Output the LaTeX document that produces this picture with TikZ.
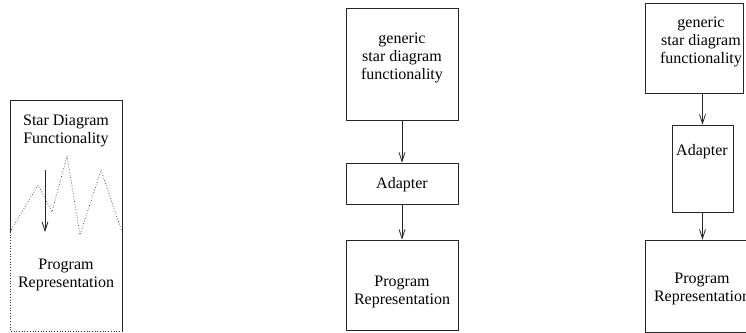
\documentclass[tikz,border=0pt]{standalone}
\usepackage{fontspec}
\setmainfont{Liberation Serif}
\usetikzlibrary{arrows.meta}
\begin{document}
\begin{tikzpicture}[x=1pt,y=-1pt,
  box/.style={draw=black!85, line width=0.8pt, inner sep=0pt, minimum width=#1},
  lbl/.style={align=center, font=\fontsize{16}{18}\selectfont, inner sep=0pt},
  arr/.style={draw=black!85, line width=0.8pt, -{Straight Barb[length=9pt,width=6pt,line width=0.8pt]}},
  dot/.style={draw=black!80, line width=0.7pt, dotted}]
\useasboundingbox (0,0) rectangle (746,332);
\clip (0,0) rectangle (746,332);
% ---------- left diagram ----------
\draw[draw=black!85, line width=0.8pt] (10,232) -- (10,100) -- (122,100) -- (122,331);
\draw[dot] (10,232) -- (10,331) -- (122,331);
\draw[dot] (10,232) -- (38,185) -- (52,212) -- (67,156) -- (80,235) -- (101,170) -- (122,232);
\coordinate (la) at (45,170);
\coordinate (lb) at (45,232);
\draw[arr] (la) -- (lb);
\node[lbl] (lt) at (66,131) {Star Diagram\\Functionality};
\node[lbl] (lp) at (66,275) {Program\\Representation};
% ---------- middle diagram ----------
\node[box=112pt, minimum height=112pt] (mg) at (402,64) {};
\node[box=112pt, minimum height=41pt] (ma) at (402,183.5) {};
\node[box=112pt, minimum height=90pt] (mp) at (402,285) {};
\node[lbl] (mgt) at (402,57.5) {generic\\star diagram\\functionality};
\node[lbl] (mat) at (402,185) {Adapter};
\node[lbl] (mpt) at (402,292) {Program\\Representation};
\draw[arr] (mg) -- (ma);
\draw[arr] (ma) -- (mp);
% ---------- right diagram ----------
\node[box=98pt, minimum height=90pt] (rg) at (694,48) {};
\node[box=61pt, minimum height=87pt] (ra) at (702.5,168.5) {};
\node[box=118pt, minimum height=92pt] (rp) at (704,286) {};
\node[lbl] (rgt) at (701,42) {generic\\star diagram\\functionality};
\node[lbl] (rat) at (702,152) {Adapter};
\node[lbl] (rpt) at (702,289) {Program\\Representation};
\draw[arr] (rg.south -| ra) -- (ra.north);
\draw[arr] (ra.south) -- (rp.north -| ra);
\end{tikzpicture}
\end{document}
